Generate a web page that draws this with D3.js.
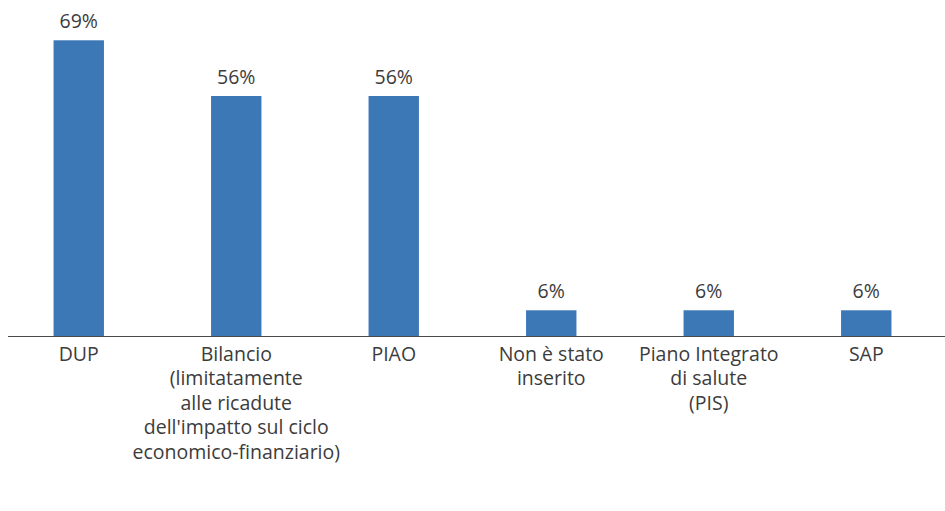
<!DOCTYPE html>
<html>
<head>
<meta charset="utf-8">
<script src="https://cdn.jsdelivr.net/npm/d3@7"></script>
<style>
    body { margin: 0; background: #fff; }
    text { font-family: "Open Sans", sans-serif; fill: #3c3c3c; }
</style>
</head>
<body>
<div id="chart-container"></div>
<script>
/*
    Strumenti di programmazione in cui è stato inserito - grafico a barre
 */

var categories = [
    "DUP",
    "Bilancio\n(limitatamente\nalle ricadute\ndell'impatto sul ciclo\neconomico-finanziario)",
    "PIAO",
    "Non è stato\ninserito",
    "Piano Integrato\ndi salute\n(PIS)",
    "SAP"
];

var values = [69, 56, 56, 6, 6, 6];

var svg_size = {
    'width': 945,
    'height': 511
};

var chart_option = {
    'baseline': 336,
    'top': 36,
    'line_start': 8,
    'font_size': 19.5,
    'line_height': 24.4
};

var svg = d3.select("#chart-container")
    .append("svg")
    .attr('width', svg_size.width)
    .attr('height', svg_size.height);

var x_scale = d3.scaleBand()
    .domain(categories)
    .range([0, svg_size.width])
    .paddingInner(0.68)
    .paddingOuter(0.34);

var y_scale = d3.scaleLinear()
    .domain([0, 70])
    .range([chart_option.baseline, chart_option.top]);

var data = categories.map(function(d, i){
    return {'name': d, 'value': values[i]};
});

// bars
svg.selectAll('.bar')
    .data(data)
    .enter()
    .append('rect')
    .classed('bar', true)
    .attr('x', function(d){ return x_scale(d.name); })
    .attr('y', function(d){ return y_scale(d.value); })
    .attr('width', x_scale.bandwidth())
    .attr('height', function(d){ return chart_option.baseline - y_scale(d.value); })
    .style('fill', '#3d78b6');

// value labels
svg.selectAll('.value-label')
    .data(data)
    .enter()
    .append('text')
    .classed('value-label', true)
    .attr('x', function(d){ return x_scale(d.name) + x_scale.bandwidth()/2; })
    .attr('y', function(d){ return y_scale(d.value) - 12; })
    .attr('text-anchor', 'middle')
    .style('font-size', chart_option.font_size + 'px')
    .text(function(d){ return d.value + '%'; });

// x axis
var x_axis = d3.axisBottom(x_scale)
    .tickSize(0)
    .tickPadding(0);

var axis_group = svg.append('g')
    .attr('transform', 'translate(0,' + chart_option.baseline + ')')
    .call(x_axis);

axis_group.select('.domain').remove();

axis_group.selectAll('.tick text')
    .attr('y', 0)
    .attr('dy', null)
    .style('font-size', chart_option.font_size + 'px')
    .style('font-family', '"Open Sans", sans-serif')
    .attr('fill', '#3c3c3c')
    .each(function(d){
        var lines = d.split('\n');
        var t = d3.select(this).text(null);
        lines.forEach(function(line, i){
            t.append('tspan')
                .attr('x', 0)
                .attr('y', 25 + i * chart_option.line_height)
                .text(line);
        });
    });

svg.append('line')
    .attr('x1', chart_option.line_start)
    .attr('x2', svg_size.width)
    .attr('y1', chart_option.baseline + 0.5)
    .attr('y2', chart_option.baseline + 0.5)
    .style('stroke', '#4a4a4a')
    .style('stroke-width', 1.2);
</script>
</body>
</html>
